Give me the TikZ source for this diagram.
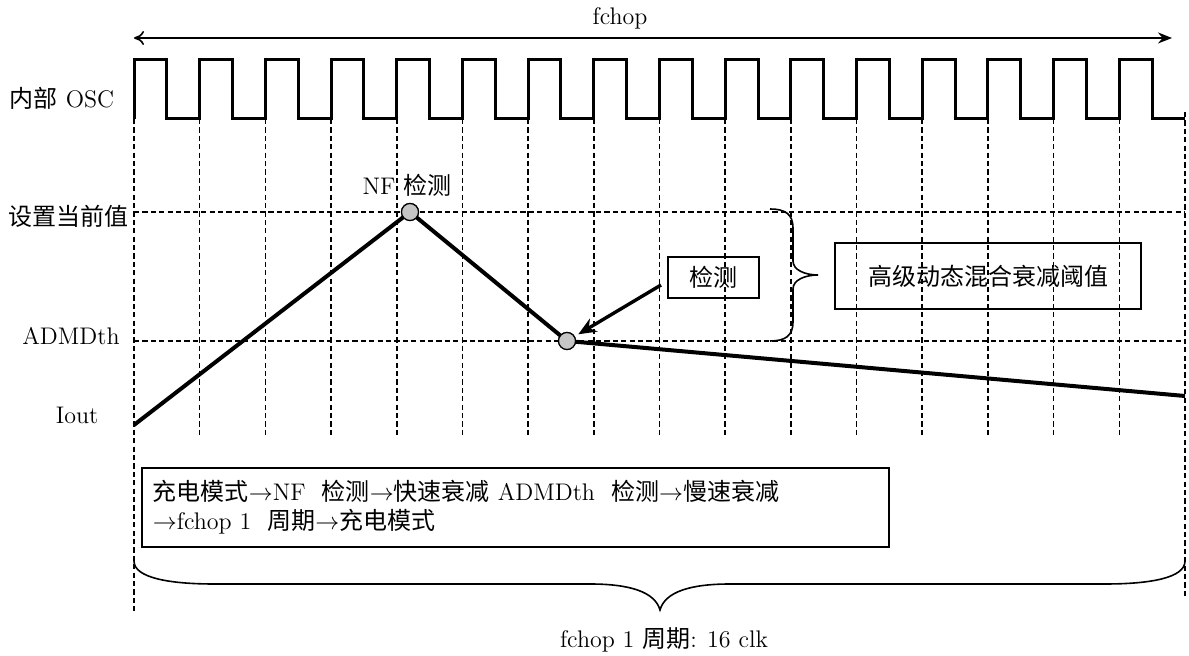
\documentclass[tikz,border=0pt]{standalone}
\usepackage{fontspec}
\newfontfamily\cjk{Noto Sans CJK SC}
\usetikzlibrary{arrows.meta,calc}
\newcommand\zh[1]{{\cjk #1}}
\newcommand\myarr{$\rightarrow$}
\begin{document}
\begin{tikzpicture}[x=0.5pt,y=-0.5pt, font=\fontsize{12pt}{14.5pt}\selectfont,
  grid/.style={dash pattern=on 2.6pt off 1.6pt, line width=0.8pt},
  wave/.style={line width=1.5pt, line join=miter},
  iout/.style={line width=2pt, line join=round},
  dot/.style={circle, draw, fill=gray!45, minimum size=8.5pt, inner sep=0pt, line width=0.6pt},
  lbl/.style={inner sep=0pt},
  box/.style={draw, line width=0.85pt},
  brc/.style={line width=0.8pt}]
\useasboundingbox (0,0) rectangle (1189,656);

% grid
\foreach \k in {1,...,15} \draw[grid] ({134+65.69*\k},119) -- ({134+65.69*\k},435);
\draw[grid] (134,119) -- (134,613);
\draw[grid] (1185,112) -- (1185,598);
\draw[grid] (134,212) -- (1185,212);
\draw[grid] (134,341) -- (1185,341);

% oscillator
\draw[wave] (134,119) foreach \k in {0,...,15} {
  -- ({134+65.69*\k},60) -- ({134+65.69*\k+32.85},60)
  -- ({134+65.69*\k+32.85},119) -- ({134+65.69*(\k+1)},119) };

% top span arrow
\coordinate (tl) at (134,38);
\coordinate (tr) at (1172,38);
\draw[{To[length=5pt,width=7pt]}-{Stealth[length=7pt,width=5.5pt]}, line width=0.8pt] (tl) -- (tr);
\node[lbl] (fchop) at (620,18) {fchop};

% labels
\node[lbl] (osc) at (62,98) {\zh{内部} OSC};
\node[lbl] (set) at (69,216) {\zh{设置当前值}};
\node[lbl] (admd) at (71,336) {ADMDth};
\node[lbl] (iout) at (77,415) {Iout};

% current trace
\coordinate (i0) at (134,425);
\node[dot] (c1) at (410,212) {};
\node[dot] (c2) at (567,341) {};
\coordinate (i3) at (1185,396);
\draw[iout] (i0) -- (c1.center) -- (c2.center) -- (i3);
\node[dot] at (c1) {};
\node[dot] at (c2) {};
\node[lbl] (nf) at (407,185) {NF \zh{检测}};

% detect box and arrow
\node[box, minimum width=45.5pt, minimum height=20.5pt, inner sep=0pt] (det) at (713.5,277.5) {\zh{检测}};
\coordinate (as) at (661,285);
\draw[line width=1.7pt, -{Stealth[length=9pt,width=7.5pt]}, shorten >=2pt] (as) -- (c2);

% right brace
\draw[brc] (770,209) .. controls (785,209) and (793,214) .. (793,228) -- (793,261)
  .. controls (793,270) and (805,275) .. (818,275)
  .. controls (805,275) and (793,280) .. (793,289) -- (793,322)
  .. controls (793,336) and (785,341) .. (770,341);

% threshold box
\node[box, minimum width=153pt, minimum height=33pt, inner sep=0pt] (th) at (988,276) {\zh{高级动态混合衰减阈值}};

% mode box
\node[box, anchor=north west, text width=362.5pt, minimum height=39.5pt, align=left, inner xsep=5.5pt, inner ysep=2pt] (mode) at (141,467)
 {\zh{充电模式}\myarr NF\ \ \zh{检测}\myarr\zh{快速衰减} ADMDth\ \ \zh{检测}\myarr\zh{慢速衰减}\\
  \myarr fchop 1\ \ \zh{周期}\myarr\zh{充电模式}};

% bottom brace
\draw[brc] (134,561) .. controls (134,578) and (170,584) .. (214,584) -- (590,584)
  .. controls (630,584) and (655,592) .. (660,610)
  .. controls (665,592) and (690,584) .. (730,584) -- (1105,584)
  .. controls (1150,584) and (1185,578) .. (1185,561);
\node[lbl] (period) at (664,640) {fchop 1 \zh{周期}: 16 clk};
\end{tikzpicture}
\end{document}
